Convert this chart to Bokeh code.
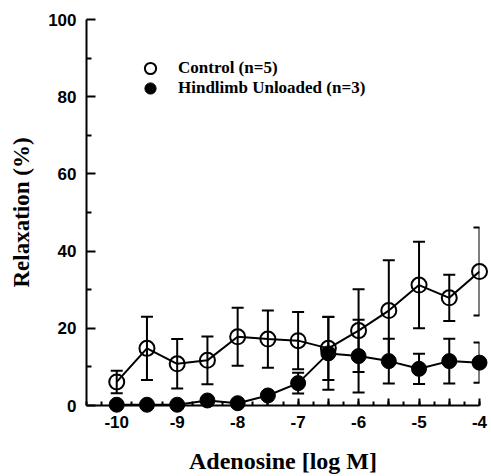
from bokeh.plotting import figure
from bokeh.models import (ColumnDataSource, Range1d, FixedTicker, Whisker, TeeHead,
                          Legend, LegendItem)
from bokeh.embed import file_html
from bokeh.resources import INLINE

# ---- data ----
log_conc = [-10, -9.5, -9, -8.5, -8, -7.5, -7, -6.5, -6, -5.5, -5, -4.5, -4]
control_mean = [6.1, 14.8, 10.8, 11.7, 17.8, 17.2, 16.8, 14.8, 19.4, 24.6, 31.2, 27.9, 34.7]
control_sem = [2.9, 8.2, 6.4, 6.2, 7.5, 7.4, 7.4, 8.2, 10.7, 13.0, 11.2, 6.0, 11.4]
hu_mean = [0.2, 0.2, 0.2, 1.3, 0.6, 2.6, 5.8, 13.5, 12.8, 11.5, 9.5, 11.5, 11.1]
hu_sem = [0, 0, 0, 0, 0, 0.5, 2.7, 9.4, 9.4, 5.8, 3.9, 5.8, 5.2]
x_major = [-10, -9.5, -9, -8.5, -8, -7.5, -7, -6.5, -6, -5.5, -5, -4.5, -4]
x_labels = {-10: "-10", -9: "-9", -8: "-8", -7: "-7", -6: "-6", -5: "-5", -4: "-4"}
y_major = [0, 20, 40, 60, 80, 100]
y_minor = [10, 30, 50, 70, 90]
legend_labels = ["Control (n=5)", "Hindlimb Unloaded (n=3)"]

ctrl = ColumnDataSource(dict(
    x=log_conc, y=control_mean,
    lo=[m - e for m, e in zip(control_mean, control_sem)],
    hi=[m + e for m, e in zip(control_mean, control_sem)]))
hu = ColumnDataSource(dict(
    x=log_conc, y=hu_mean,
    lo=[m - e for m, e in zip(hu_mean, hu_sem)],
    hi=[m + e for m, e in zip(hu_mean, hu_sem)]))

p = figure(frame_width=393, frame_height=386, output_backend="svg", toolbar_location=None,
           x_range=Range1d(-10.5, -4.0), y_range=Range1d(0, 100),
           min_border_left=74, min_border_right=9, min_border_top=19, min_border_bottom=60)
p.margin = (0, 0, 0, 6)
p.outline_line_color = None
p.grid.visible = False
p.background_fill_color = "white"

serif = "Liberation Serif"
sans = "Liberation Sans"

# axes
xa = p.xaxis[0]
xa.ticker = FixedTicker(ticks=x_major,
                        minor_ticks=[v / 4 for v in range(-42, -15)])
xa.major_label_overrides = {v: x_labels.get(v, "") for v in x_major}
xa.axis_label = "Adenosine [log M]"
ya = p.yaxis[0]
ya.ticker = FixedTicker(ticks=y_major, minor_ticks=y_minor)
ya.axis_label = "Relaxation (%)"

for ax in (xa, ya):
    ax.axis_line_width = 2
    ax.axis_line_color = "black"
    ax.major_tick_line_width = 2
    ax.minor_tick_line_width = 2
    ax.major_tick_line_color = "black"
    ax.minor_tick_line_color = "black"
    ax.major_tick_out = 0
    ax.minor_tick_out = 0
    ax.major_label_text_font = sans
    ax.major_label_text_font_style = "bold"
    ax.major_label_text_font_size = "17px"
    ax.major_label_text_color = "black"
    ax.axis_label_text_font = serif
    ax.axis_label_text_font_style = "bold"
    ax.axis_label_text_color = "black"

xa.major_tick_in = 7
xa.minor_tick_in = 4
xa.major_label_standoff = 10
xa.axis_label_text_font_size = "24px"
xa.axis_label_standoff = 17

ya.major_tick_in = 9
ya.minor_tick_in = 5
ya.major_label_standoff = 10
ya.axis_label_text_font_size = "23px"
ya.axis_label_standoff = 11

# error bars
for src in (ctrl, hu):
    w = Whisker(source=src, base="x", lower="lo", upper="hi", line_width=2,
                line_color="black",
                lower_head=TeeHead(size=12, line_width=2, line_color="black"),
                upper_head=TeeHead(size=12, line_width=2, line_color="black"))
    p.add_layout(w)

# lines
p.line("x", "y", source=ctrl, line_width=2, line_color="black")
p.line("x", "y", source=hu, line_width=2, line_color="black")

# markers
r_ctrl = p.scatter("x", "y", source=ctrl, size=15, marker="circle",
                   fill_alpha=0, line_color="black", line_width=2, level="overlay")
r_hu = p.scatter("x", "y", source=hu, size=15, marker="circle",
                 fill_color="black", line_color="black", line_width=1, level="overlay")

legend_style = dict(orientation="vertical", glyph_width=28, glyph_height=28,
                    label_height=28, spacing=0, label_standoff=14, padding=0, margin=0,
                    border_line_color=None, background_fill_alpha=0,
                    label_text_font=serif, label_text_font_style="bold",
                    label_text_font_size="17px", label_text_color="black")
leg1 = Legend(items=[LegendItem(label=legend_labels[0], renderers=[r_ctrl])],
              location=(50, 323), **legend_style)
leg2 = Legend(items=[LegendItem(label=legend_labels[1], renderers=[r_hu])],
              location=(50, 303), **legend_style)
p.add_layout(leg1)
p.add_layout(leg2)

open("out.html", "w").write(file_html(p, INLINE))
